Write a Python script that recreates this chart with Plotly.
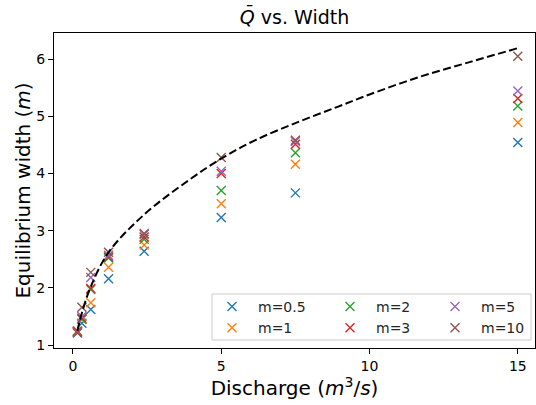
import plotly.graph_objects as go

# discharge values (m^3/s) shared by every series
discharge = [0.15, 0.3, 0.6, 1.2, 2.4, 5.0, 7.5, 15.0]

# equilibrium widths, one list per m
width_m05 = [1.24, 1.38, 1.62, 2.16, 2.64, 3.23, 3.66, 4.54]
width_m1 = [1.25, 1.45, 1.74, 2.36, 2.75, 3.47, 4.16, 4.89]
width_m2 = [1.24, 1.45, 1.97, 2.52, 2.85, 3.70, 4.36, 5.18]
width_m3 = [1.23, 1.47, 1.99, 2.54, 2.89, 4.00, 4.51, 5.31]
width_m5 = [1.22, 1.50, 2.18, 2.57, 2.93, 4.04, 4.56, 5.44]
width_m10 = [1.21, 1.66, 2.27, 2.62, 2.95, 4.28, 4.58, 6.05]

# dashed reference curve
curve_q = [0.15, 0.3, 0.6, 1.2, 2.4, 3.9, 5.0, 6.1, 7.5, 8.9, 10.0, 11.7, 13.4, 15.0]
curve_w = [1.25, 1.56, 2.02, 2.62, 3.28, 3.88, 4.26, 4.57, 4.88, 5.16, 5.38, 5.69, 5.95, 6.19]

series = [
    ("m=0.5", width_m05, "#1f77b4", "legend"),
    ("m=1", width_m1, "#ff7f0e", "legend"),
    ("m=2", width_m2, "#2ca02c", "legend2"),
    ("m=3", width_m3, "#d62728", "legend2"),
    ("m=5", width_m5, "#9467bd", "legend3"),
    ("m=10", width_m10, "#8c564b", "legend3"),
]

FONT = "DejaVu Sans"

fig = go.Figure()

for name, widths, color, legend in series:
    fig.add_trace(
        go.Scatter(
            x=discharge,
            y=widths,
            mode="markers",
            name=name,
            legend=legend,
            marker=dict(symbol="x-thin", size=9, color=color,
                        line=dict(width=1.4, color=color)),
        )
    )

fig.add_trace(
    go.Scatter(
        x=curve_q,
        y=curve_w,
        mode="lines",
        line=dict(color="black", width=2, dash="8px,3.5px", shape="spline"),
        showlegend=False,
        hoverinfo="skip",
    )
)

# plot area in pixels: x 54..535, y 33..348
def px_x(p):
    return (p - 54) / 481


def px_y(p):
    return (348 - p) / 315


legend_common = dict(
    bgcolor="rgba(0,0,0,0)",
    borderwidth=0,
    font=dict(family=FONT, size=14, color="#262626"),
    xanchor="left",
    yanchor="top",
    itemwidth=42,
    tracegroupgap=0,
)

fig.update_layout(
    width=536,
    height=405,
    paper_bgcolor="white",
    plot_bgcolor="white",
    margin=dict(l=54, r=1, t=33, b=57, autoexpand=False),
    font=dict(family=FONT, size=14, color="black"),
    title=dict(
        text="<i>Q̄</i> vs. Width",
        x=0.5,
        xref="paper",
        xanchor="center",
        y=1 - 17 / 405,
        yanchor="middle",
        font=dict(family=FONT, size=19, color="black"),
    ),
    legend=dict(x=px_x(206), y=px_y(291), **legend_common),
    legend2=dict(x=px_x(324), y=px_y(291), **legend_common),
    legend3=dict(x=px_x(429), y=px_y(291), **legend_common),
    shapes=[
        dict(
            type="rect",
            xref="paper",
            yref="paper",
            x0=px_x(212),
            x1=px_x(531),
            y0=px_y(340),
            y1=px_y(294),
            line=dict(color="#cccccc", width=1),
            fillcolor="rgba(255,255,255,0.8)",
            layer="above",
        )
    ],
    xaxis=dict(
        range=[-0.64, 15.58],
        tickvals=[0, 5, 10, 15],
        ticks="outside",
        ticklen=5,
        tickwidth=1,
        tickcolor="black",
        showgrid=False,
        zeroline=False,
        showline=True,
        linecolor="black",
        linewidth=1,
        mirror=True,
        automargin=False,
        tickfont=dict(family=FONT, size=14, color="black"),
        title=dict(
            text="Discharge (<i>m</i><sup>3</sup>/<i>s</i>)",
            font=dict(family=FONT, size=20, color="black"),
            standoff=6,
        ),
    ),
    yaxis=dict(
        range=[0.948, 6.455],
        tickvals=[1, 2, 3, 4, 5, 6],
        ticks="outside",
        ticklen=5,
        tickwidth=1,
        tickcolor="black",
        showgrid=False,
        zeroline=False,
        showline=True,
        linecolor="black",
        linewidth=1,
        mirror=True,
        automargin=False,
        tickfont=dict(family=FONT, size=14, color="black"),
        title=dict(
            text="Equilibrium width (<i>m</i>)",
            font=dict(family=FONT, size=20, color="black"),
            standoff=0,
        ),
    ),
)

# the page body has an 8px default margin; drop it so the figure sits at 0,0
fig.write_html(
    "out.html",
    config={"displayModeBar": False},
    post_script="document.body.style.margin='0';",
)
